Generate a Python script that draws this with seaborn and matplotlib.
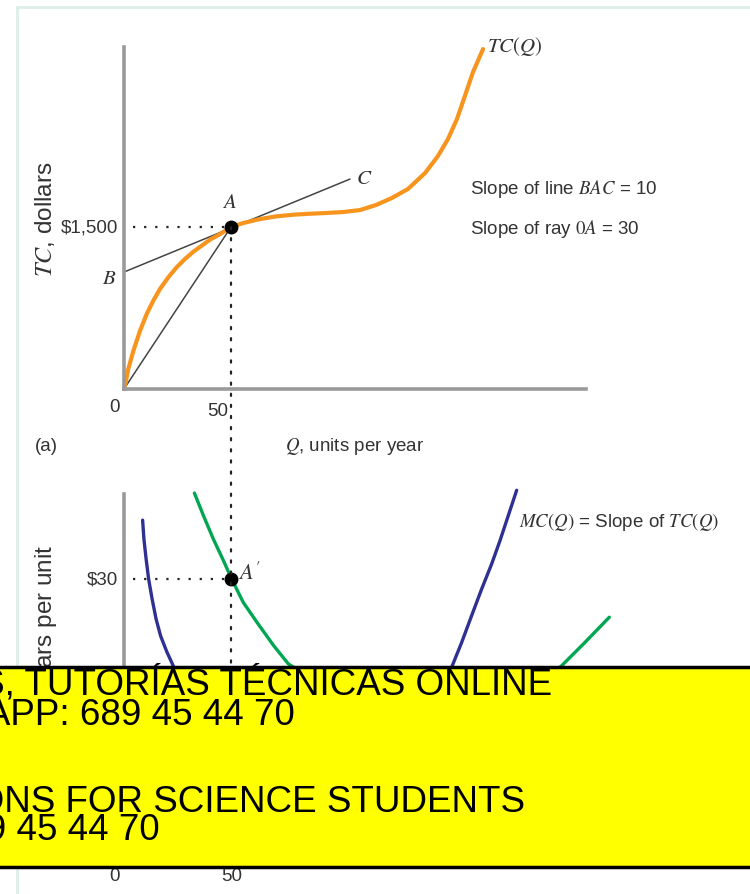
import numpy as np
import pandas as pd
import matplotlib
matplotlib.use("Agg")
import matplotlib.pyplot as plt
from matplotlib.patches import Rectangle, ConnectionPatch
import seaborn as sns

# --- data ---
q_tc = [0, 0.8, 2.0, 4.4, 7.5, 10.6, 13.7, 16.8, 20.7, 24.6, 28.5, 32.4, 36.3,
        40.2, 44.9, 50, 55.7, 63.6, 71.3, 79.1, 86.9, 94.7, 102.5, 110.3,
        117.8, 125.2, 132.7, 140.7, 146.7, 151.4, 155.6, 159.3, 163.1, 167.8]
tc = [0, 62, 185, 355, 540, 694, 818, 926, 1034, 1127, 1204, 1271, 1327,
      1383, 1435, 1500, 1537, 1574, 1599, 1614, 1623, 1630, 1639, 1657,
      1704, 1769, 1852, 2000, 2157, 2315, 2500, 2713, 2935, 3148]

line_bac_q = [0, 105.6]
line_bac_tc = [1083, 1944]
ray_q = [0, 50]
ray_tc = [0, 1500]
point_a = (50, 1500)

q_mc = [8.7, 9.3, 10.3, 11.5, 13.1, 15.0, 17.1, 20.0, 23.0, 40, 70, 100, 130,
        153.4, 157.8, 162.5, 167.1, 171.8, 175.7, 179.6, 183.5]
mc = [36.3, 34.3, 32.2, 30.0, 27.9, 25.7, 23.9, 22.2, 20.7, 11, 6, 6, 11,
      20.7, 23.2, 26.1, 28.9, 31.6, 34.1, 36.8, 39.5]
q_ac = [32.9, 37.1, 41.7, 46.4, 50.3, 55.7, 62.0, 69.8, 76.8, 110, 150, 185,
        204.5, 215.4, 226.8]
ac = [39.2, 36.8, 34.3, 32.0, 30.0, 27.5, 25.4, 22.9, 20.9, 16, 14.5, 17,
      20.7, 23.2, 25.9]
point_a2 = (50, 30)

orange = "#f7941d"
navy = "#2e3192"
green = "#00a651"
axis_gray = "#9a9a9a"
txt = "#333333"

sns.set_style("white")
plt.rcParams["font.family"] = ["Liberation Sans Narrow", "Liberation Sans", "DejaVu Sans"]
plt.rcParams["mathtext.fontset"] = "stix"

W, H = 750, 895
fig = plt.figure(figsize=(W / 100, H / 100), dpi=100)


def fx(x):
    return x / W


def fy(y):
    return 1 - y / H


def add_axes(left, top, right, bottom):
    return fig.add_axes([fx(left), fy(bottom), fx(right) - fx(left), fy(top) - fy(bottom)])


# light frame
fig.add_artist(Rectangle((fx(17), fy(900)), 1.2, fy(8) - fy(900), transform=fig.transFigure,
                         facecolor="none", edgecolor="#dcefe8", lw=2, zorder=-1))

# ---------- panel (a) ----------
ax1 = add_axes(124, 48, 586, 390)
ax1.set_xlim(0, 215.9)
ax1.set_ylim(0, 3167)

sns.lineplot(x=line_bac_q, y=line_bac_tc, ax=ax1, color="#444444", lw=1.1, sort=False)
sns.lineplot(x=ray_q, y=ray_tc, ax=ax1, color="#444444", lw=1.1, sort=False)
sns.lineplot(x=q_tc, y=tc, ax=ax1, color=orange, lw=3, sort=False, clip_on=False)
ax1.plot([4, point_a[0]], [point_a[1], point_a[1]], color="#222222", lw=1.6,
         linestyle=(0, (1, 4)))
ax1.plot(*point_a, "o", color="black", ms=9, zorder=5)

# ---------- panel (b) ----------
ax2 = add_axes(124, 495, 586, 860)
ax2.set_xlim(0, 215.9)
ax2.set_ylim(0, 39.1)

sns.lineplot(x=q_mc, y=mc, ax=ax2, color=navy, lw=2.4, sort=False, clip_on=False)
sns.lineplot(x=q_ac, y=ac, ax=ax2, color=green, lw=2.4, sort=False, clip_on=False)
ax2.plot([4, point_a2[0]], [point_a2[1], point_a2[1]], color="#222222", lw=1.6,
         linestyle=(0, (1, 4)))
ax2.plot(*point_a2, "o", color="black", ms=9, zorder=5)

for ax in (ax1, ax2):
    sns.despine(ax=ax)
    for s in ("left", "bottom"):
        ax.spines[s].set_color(axis_gray)
        ax.spines[s].set_linewidth(2.6)
    ax.set_xticks([])
    ax.set_yticks([])
    ax.set_xlabel("")
    ax.set_ylabel("")
    ax.patch.set_alpha(0)

# vertical dotted line through both panels
con = ConnectionPatch(xyA=point_a, coordsA=ax1.transData, xyB=(50, 0), coordsB=ax2.transData,
                      color="#222222", lw=1.6, linestyle=(0, (1, 4)), zorder=3)
fig.add_artist(con)

# ---------- texts ----------
def t(x, y, s, size=13, ha="center", va="center", **kw):
    fig.text(fx(x), fy(y), s, fontsize=size, ha=ha, va=va, color=kw.pop("color", txt), **kw)

t(487, 47, r"$TC(Q)$", size=15, ha="left")
t(470, 189, r"Slope of line $BAC$ = 10", size=13.5, ha="left")
t(470, 229, r"Slope of ray $0A$ = 30", size=13.5, ha="left")
t(118, 228, "$1,500", size=13.5, ha="right")
t(109, 279, r"$B$", size=15)
t(229, 203, r"$A$", size=15)
t(356, 179, r"$C$", size=15, ha="left")
t(120, 408, "0", size=13.5, ha="right")
t(228, 412, "50", size=13.5, ha="right")
t(46, 447, "(a)", size=13.5)
t(285, 447, r"$Q$, units per year", size=13.5, ha="left")
t(45, 219, r"$TC$, dollars", size=17.5, rotation=90)

t(118, 580, "$30", size=13.5, ha="right")
t(238, 574, r"$A^{\prime}$", size=16, ha="left")
t(519, 522, r"$MC(Q)$ = Slope of $TC(Q)$", size=13.5, ha="left")
t(46, 545, r"$AC$, $MC$, dollars per unit", size=17.5, rotation=90, va="top")
t(120, 877, "0", size=13.5, ha="right")
t(232, 877, "50", size=13.5)

# ---------- yellow banner ----------
fig.add_artist(Rectangle((fx(-5), fy(868)), 1.1, fy(668) - fy(868), transform=fig.transFigure,
                         facecolor="#ffff00", edgecolor="black", lw=2.5, zorder=10))
banner = ["CLASES PARTICULARES, TUTORÍAS TÉCNICAS ONLINE",
          "LLAMA O ENVÍA WHATSAPP: 689 45 44 70",
          "ONLINE PRIVATE LESSONS FOR SCIENCE STUDENTS",
          "CALL OR WHATSAPP:689 45 44 70"]
banner_right = [552, 295, 525, 160]
banner_base = [695, 725, 812, 840]
for s, xr, yb in zip(banner, banner_right, banner_base):
    fig.text(fx(xr), fy(yb), s, fontsize=26.5, ha="right", va="baseline", color="black",
             family=["Liberation Sans", "DejaVu Sans"], zorder=11)

fig.savefig("out.png", dpi=100)
